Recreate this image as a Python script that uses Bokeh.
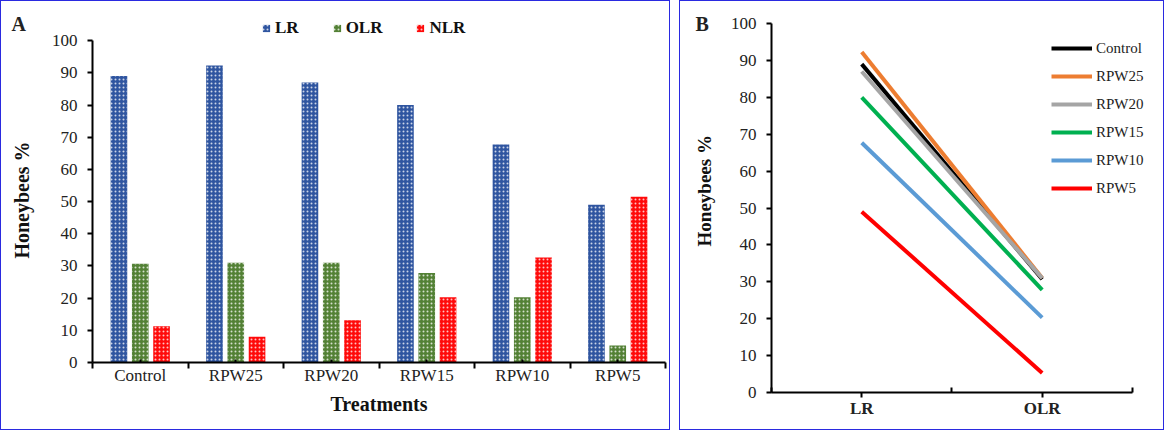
import numpy as np
from bokeh.plotting import figure
from bokeh.layouts import row
from bokeh.models import (FixedTicker, Legend, LegendItem, Title, Spacer, Range1d)
from bokeh.embed import file_html
from bokeh.resources import INLINE

# ---------------- data ----------------
treatments = ["Control", "RPW25", "RPW20", "RPW15", "RPW10", "RPW5"]
LR = [89.0, 92.3, 87.0, 80.0, 67.7, 49.0]
OLR = [30.7, 31.0, 31.0, 27.8, 20.3, 5.3]
NLR = [11.3, 8.0, 13.1, 20.3, 32.6, 51.5]
groups = ["LR", "OLR", "NLR"]
line_categories = ["LR", "OLR"]
y_ticks = list(range(0, 101, 10))

# ---------------- styles ----------------
FONT = "Liberation Serif"
BORDER = "1.5px solid #2a2ae0"
bar_colors = {"LR": "#2f55a0", "OLR": "#538135", "NLR": "#ff0a0a"}
line_colors = ["#000000", "#ed7d31", "#a5a5a5", "#00b050", "#5b9bd5", "#ff0000"]
NB = "\u00a0"


def style_axes(p):
    p.xgrid.visible = False
    p.ygrid.visible = False
    p.outline_line_color = None
    for ax in (p.xaxis[0], p.yaxis[0]):
        ax.axis_line_color = "black"
        ax.axis_line_width = 2
        ax.major_tick_line_color = "black"
        ax.major_tick_line_width = 2
        ax.minor_tick_line_color = "black"
        ax.minor_tick_line_width = 2
        ax.major_label_text_font = FONT
        ax.major_label_text_font_size = "17px"
        ax.major_label_text_color = "#222222"
        ax.axis_label_text_font = FONT
        ax.axis_label_text_font_style = "bold"
        ax.axis_label_text_font_size = "20px"
        ax.axis_label_text_color = "#111111"
    yax = p.yaxis[0]
    yax.ticker = FixedTicker(ticks=y_ticks, minor_ticks=[])
    yax.bounds = (0, 100)
    yax.major_tick_out = 5
    yax.major_tick_in = 0
    yax.major_label_standoff = 10


def panel_letter(p, letter, offset, standoff):
    p.add_layout(Title(text=letter, align="left", offset=offset, vertical_align="bottom",
                       standoff=standoff, text_font=FONT, text_font_style="bold",
                       text_font_size="20px", text_color="#222222"), "above")


# ---------------- Panel A ----------------
FH_A = 343
pA = figure(width=668, height=428, title=None, x_range=Range1d(0, len(treatments)),
            y_range=Range1d(0, 107.2), output_backend="svg", toolbar_location=None,
            min_border_left=91, min_border_right=6, min_border_top=16,
            min_border_bottom=69, styles={"border": BORDER})
pA.frame_height = FH_A
pA.frame_width = 571
style_axes(pA)

centers = np.arange(len(treatments)) + 0.5
offsets = {"LR": -0.223, "OLR": 0.0, "NLR": 0.223}
values = {"LR": LR, "OLR": OLR, "NLR": NLR}
hatch = dict(hatch_pattern="dot", hatch_color="white", hatch_scale=4,
             hatch_weight=1.0, hatch_alpha=0.75)
leg_items = []
for g in groups:
    pA.vbar(x=centers + offsets[g], top=values[g], width=0.174, bottom=0,
            fill_color=bar_colors[g], line_color=None, **hatch)
    key = pA.scatter(x=[np.nan], y=[np.nan], marker="square", size=7,
                     fill_color=bar_colors[g], line_color=None, **hatch)
    leg_items.append(LegendItem(label=g, renderers=[key]))

xA = pA.xaxis[0]
xA.ticker = FixedTicker(ticks=list(centers), minor_ticks=list(range(len(treatments) + 1)))
xA.major_label_overrides = {float(c): t for c, t in zip(centers, treatments)}
xA.major_tick_out = 0
xA.major_tick_in = 3
xA.minor_tick_out = 6
xA.minor_tick_in = 0
xA.major_label_standoff = -3
xA.axis_label = "Treatments"
xA.axis_label_standoff = 5
pA.yaxis[0].axis_label = "Honeybees %" + NB * 4
pA.yaxis[0].axis_label_standoff = 16

legA = Legend(items=leg_items, orientation="horizontal", location=(165, 324),
              glyph_width=18, glyph_height=18, label_standoff=0, spacing=29,
              padding=0, margin=0, border_line_alpha=0, background_fill_alpha=0,
              label_text_font=FONT, label_text_font_style="bold",
              label_text_font_size="17px", label_text_color="#111111")
pA.add_layout(legA)
panel_letter(pA, "A", -81, -34)

# ---------------- Panel B ----------------
FH_B = 373
pB = figure(width=483, height=428, title=None, x_range=Range1d(0, 2.128),
            y_range=Range1d(0, 101.63), output_backend="svg", toolbar_location=None,
            min_border_left=91, min_border_right=10, min_border_top=16,
            min_border_bottom=39, styles={"border": BORDER})
pB.frame_height = FH_B
pB.frame_width = 382
style_axes(pB)

lc = np.arange(len(line_categories)) + 0.5
itemsB = []
for i, t in enumerate(treatments):
    r = pB.line(x=lc, y=[LR[i], OLR[i]], line_color=line_colors[i], line_width=4)
    itemsB.append(LegendItem(label=t, renderers=[r]))

xB = pB.xaxis[0]
xB.bounds = (0, len(line_categories))
xB.ticker = FixedTicker(ticks=list(lc), minor_ticks=list(range(len(line_categories) + 1)))
xB.major_label_overrides = {float(c): t for c, t in zip(lc, line_categories)}
xB.major_label_text_font_style = "bold"
xB.major_tick_out = 5
xB.major_tick_in = 0
xB.minor_tick_out = 0
xB.minor_tick_in = 5
xB.major_label_standoff = 1
pB.yaxis[0].axis_label = NB * 6 + "Honeybees %"
pB.yaxis[0].axis_label_standoff = 13
pB.yaxis[0].axis_label_text_font_size = "19px"

legB = Legend(items=itemsB, location=(280, 195), glyph_width=41, glyph_height=18,
              label_standoff=4, spacing=10, padding=0, margin=0,
              border_line_alpha=0, background_fill_alpha=0,
              label_text_font=FONT, label_text_font_size="15px",
              label_text_color="#222222")
pB.add_layout(legB)
panel_letter(pB, "B", -76, -34)

layout = row(pA, Spacer(width=9), pB)
open("out.html", "w").write(file_html(layout, INLINE))
